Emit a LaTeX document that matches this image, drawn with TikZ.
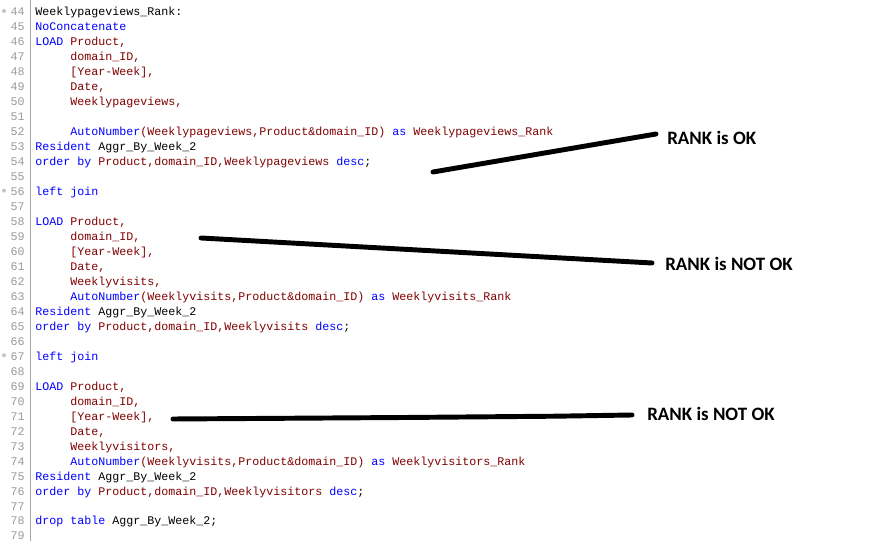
\documentclass[tikz,border=0pt]{standalone}
\usepackage{fontspec}
\setmonofont{Liberation Mono}
\newfontfamily\labelfont{Carlito}
\definecolor{kwc}{HTML}{0000FF}
\definecolor{idc}{HTML}{800000}
\definecolor{lnum}{HTML}{9A9A9A}
\definecolor{gutterc}{HTML}{A8A8A8}
\definecolor{foldc}{HTML}{C4C4C4}
\newcommand\kw[1]{\textcolor{kwc}{#1}}
\newcommand\idt[1]{\textcolor{idc}{#1}}
\newcommand\codeline[3]{\node[code] (l#1) at (#2,{16+(#1-44)*14.97}) {#3};}
\begin{document}
\begin{tikzpicture}[x=0.75pt,y=-0.75pt,
  code/.style={anchor=base west,inner sep=0pt,font=\ttfamily\fontsize{8.75pt}{10pt}\selectfont},
  lnstyle/.style={anchor=base east,inner sep=0pt,text=lnum,font=\ttfamily\fontsize{8.75pt}{10pt}\selectfont},
  rank/.style={anchor=west,inner sep=0pt,font=\labelfont\bfseries\fontsize{14.2pt}{17pt}\selectfont},
  stroke/.style={line width=3.7pt,line cap=round,line join=round,black},
  gutter/.style={draw=gutterc,line width=0.75pt},
  fold/.style={circle,fill=foldc,inner sep=0pt,minimum size=3pt}]
\useasboundingbox[fill=white] (0,0) rectangle (890,541);
\draw[gutter] (30,0) -- (30,541);
\foreach \k in {44,...,79}{\node[lnstyle] (n\k) at (25,{16+(\k-44)*14.97}) {\k};}
\foreach \k in {44,56,67}{\node[fold] (f\k) at (4,{11+(\k-44)*14.97}) {};}
% block 1
\codeline{44}{35}{Weeklypageviews\_Rank:}
\codeline{45}{35}{\kw{NoConcatenate}}
\codeline{46}{35}{\kw{LOAD} \idt{Product,}}
\codeline{47}{70}{\idt{domain\_ID,}}
\codeline{48}{70}{\idt{[Year-Week],}}
\codeline{49}{70}{\idt{Date,}}
\codeline{50}{70}{\idt{Weeklypageviews,}}
\codeline{52}{70}{\kw{AutoNumber}\idt{(Weeklypageviews,Product\&domain\_ID)} \kw{as} \idt{Weeklypageviews\_Rank}}
\codeline{53}{35}{\kw{Resident} Aggr\_By\_Week\_2}
\codeline{54}{35}{\kw{order by} \idt{Product,domain\_ID,Weeklypageviews} \kw{desc};}
\codeline{56}{35}{\kw{left join}}
% block 2
\codeline{58}{35}{\kw{LOAD} \idt{Product,}}
\codeline{59}{70}{\idt{domain\_ID,}}
\codeline{60}{70}{\idt{[Year-Week],}}
\codeline{61}{70}{\idt{Date,}}
\codeline{62}{70}{\idt{Weeklyvisits,}}
\codeline{63}{70}{\kw{AutoNumber}\idt{(Weeklyvisits,Product\&domain\_ID)} \kw{as} \idt{Weeklyvisits\_Rank}}
\codeline{64}{35}{\kw{Resident} Aggr\_By\_Week\_2}
\codeline{65}{35}{\kw{order by} \idt{Product,domain\_ID,Weeklyvisits} \kw{desc};}
\codeline{67}{35}{\kw{left join}}
% block 3
\codeline{69}{35}{\kw{LOAD} \idt{Product,}}
\codeline{70}{70}{\idt{domain\_ID,}}
\codeline{71}{70}{\idt{[Year-Week],}}
\codeline{72}{70}{\idt{Date,}}
\codeline{73}{70}{\idt{Weeklyvisitors,}}
\codeline{74}{70}{\kw{AutoNumber}\idt{(Weeklyvisits,Product\&domain\_ID)} \kw{as} \idt{Weeklyvisitors\_Rank}}
\codeline{75}{35}{\kw{Resident} Aggr\_By\_Week\_2}
\codeline{76}{35}{\kw{order by} \idt{Product,domain\_ID,Weeklyvisitors} \kw{desc};}
\codeline{78}{35}{\kw{drop table} Aggr\_By\_Week\_2;}
% annotations
\node[rank] (r1) at (667,138) {RANK is OK};
\node[rank] (r2) at (665,264) {RANK is NOT OK};
\node[rank] (r3) at (647,414) {RANK is NOT OK};
\coordinate (s1) at (433,172);
\coordinate (s2) at (201,238);
\coordinate (s3) at (173,419);
\draw[stroke] (s1) -- ([shift={(-11,-4)}]r1.west);
\draw[stroke] (s2) -- ([shift={(-13,-1)}]r2.west);
\draw[stroke] (s3) -- (252,418.5) -- (404,417.5) -- (556,416.2) -- ([shift={(-15,1)}]r3.west);
\end{tikzpicture}
\end{document}
